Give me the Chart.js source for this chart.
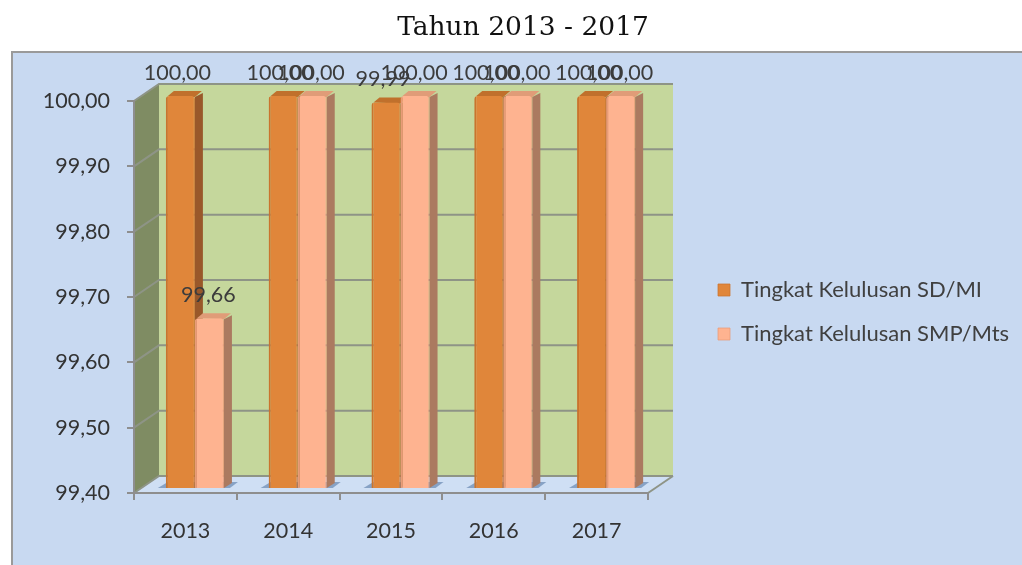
<!DOCTYPE html>
<html><head><meta charset="utf-8">
<style>html,body{margin:0;padding:0;background:#fff}canvas{display:block}</style>
<script src="https://cdn.jsdelivr.net/npm/chart.js@4"></script>
</head><body>
<div style="width:1022px;height:565px"><canvas id="c" width="1022" height="565"></canvas></div>
<script>
const categories = ['2013','2014','2015','2016','2017'];
const seriesSD = [100.00,100.00,99.99,100.00,100.00];
const seriesSMP = [99.66,100.00,100.00,100.00,100.00];
const seriesNames = ['Tingkat Kelulusan SD/MI','Tingkat Kelulusan SMP/Mts'];
const titleText = 'Tahun 2013 - 2017';
const fmt = v => v.toFixed(2).replace('.',',');
const LABEL_FONT = '"Lato"';
const WALL_DX = 25, WALL_DY = -17, BAR_DX = 9.5, BAR_DY = -5, SIDE_DX = 8, SIDE_DY = -5;
const LABEL_DX = [-3,-1];

function poly(ctx, pts, fill){ ctx.beginPath(); pts.forEach((p,i)=> i?ctx.lineTo(p[0],p[1]):ctx.moveTo(p[0],p[1])); ctx.closePath(); ctx.fillStyle=fill; ctx.fill(); }

const scene = {
  id:'scene',
  afterLayout(chart){
    const t = chart.titleBlock; t.left = 24; t.right = 1022;
    const l = chart.legend;
    const h = l.bottom - l.top;
    l.left = 696; l.right = 1022;
    l.top = 257; l.bottom = 257 + h;
  },
  beforeDraw(chart){
    const ctx = chart.ctx, a = chart.chartArea, y = chart.scales.y;
    ctx.save();
    ctx.fillStyle='#fff'; ctx.fillRect(0,0,1022,565);
    ctx.fillStyle='#c8d9f1'; ctx.fillRect(11,51,1011,514);
    ctx.strokeStyle='#9a9a9a'; ctx.lineWidth=2;
    ctx.beginPath(); ctx.moveTo(12,565); ctx.lineTo(12,52); ctx.lineTo(1022,52); ctx.stroke();
    // floor
    poly(ctx,[[a.left,a.bottom],[a.left+WALL_DX,a.bottom+WALL_DY],[a.right+WALL_DX,a.bottom+WALL_DY],[a.right,a.bottom]],'#cfdff4');
    // back wall
    poly(ctx,[[a.left+WALL_DX,a.top+WALL_DY],[a.right+WALL_DX,a.top+WALL_DY],[a.right+WALL_DX,a.bottom+WALL_DY],[a.left+WALL_DX,a.bottom+WALL_DY]],'#c5d79c');
    // side wall
    poly(ctx,[[a.left,a.top],[a.left+WALL_DX,a.top+WALL_DY],[a.left+WALL_DX,a.bottom+WALL_DY],[a.left,a.bottom]],'#7f8c63');
    // gridlines taken from the value scale
    ctx.strokeStyle='#8e9486'; ctx.lineWidth=2;
    y.ticks.forEach(t=>{
      const py = y.getPixelForValue(t.value);
      ctx.beginPath(); ctx.moveTo(a.left,py); ctx.lineTo(a.left+WALL_DX,py+WALL_DY); ctx.lineTo(a.right+WALL_DX,py+WALL_DY); ctx.stroke();
    });
    ctx.beginPath(); ctx.moveTo(a.right,a.bottom); ctx.lineTo(a.right+WALL_DX,a.bottom+WALL_DY); ctx.stroke();
    ctx.restore();
  },
  beforeDatasetsDraw(chart){
    const ctx = chart.ctx, base = chart.chartArea.bottom;
    ctx.save();
    ctx.translate(BAR_DX,BAR_DY);
    const sides=[['#99582a','#c0702c'],['#ab7a60','#e09c78']];
    chart.data.datasets.forEach((ds,di)=>{
      chart.getDatasetMeta(di).data.forEach(b=>{
        const x1=b.x+b.width/2, x0=b.x-b.width/2;
        ctx.save(); ctx.globalAlpha=.75;
        poly(ctx,[[x0-8,base],[x0+2,base-6],[x1+14,base-6],[x1+6,base]],'#6f8db5');
        ctx.restore();
      });
    });
    chart.data.datasets.forEach((ds,di)=>{
      chart.getDatasetMeta(di).data.forEach(b=>{
        const x1=b.x+b.width/2, x0=b.x-b.width/2, top=b.y;
        poly(ctx,[[x1,top+1],[x1+SIDE_DX,top+SIDE_DY+2],[x1+SIDE_DX,base+SIDE_DY],[x1,base]],sides[di][0]);
        poly(ctx,[[x0+2,top],[x0+SIDE_DX,top+SIDE_DY],[x1+SIDE_DX-1,top+SIDE_DY],[x1,top+1]],sides[di][1]);
      });
    });
  },
  afterDatasetsDraw(chart){
    const ctx = chart.ctx;
    ctx.restore();
    ctx.save();
    ctx.font='21.5px '+LABEL_FONT; ctx.fillStyle='#3c3c3c'; ctx.textAlign='center'; ctx.textBaseline='middle';
    chart.data.datasets.forEach((ds,di)=>{
      chart.getDatasetMeta(di).data.forEach((b,i)=>{
        ctx.fillText(fmt(ds.data[i]), b.x+BAR_DX+LABEL_DX[di], b.y+BAR_DY-23);
      });
    });
    ctx.restore();
  }
};

new Chart(document.getElementById('c').getContext('2d'),{
  type:'bar',
  data:{labels:categories,datasets:[
    {label:seriesNames[0],data:seriesSD,backgroundColor:'#e0863a',borderColor:'#c9742e',borderWidth:{left:2,right:1,top:0,bottom:0},borderRadius:{topLeft:3,topRight:3},borderSkipped:false,categoryPercentage:.565,barPercentage:1},
    {label:seriesNames[1],data:seriesSMP,backgroundColor:'#feb390',borderColor:'#e89c78',borderWidth:{left:2,right:1,top:0,bottom:0},borderRadius:{topLeft:3,topRight:3},borderSkipped:false,categoryPercentage:.565,barPercentage:1}
  ]},
  options:{
    responsive:false,animation:false,
    layout:{padding:{left:24,right:166,top:0,bottom:0}},
    plugins:{
      title:{display:true,text:titleText,color:'#111',font:{family:'"DejaVu Serif"',size:26.5,weight:'normal'},padding:{top:12,bottom:57.2}},
      legend:{display:true,position:'right',align:'start',labels:{font:{family:LABEL_FONT,size:22},color:'#404040',boxWidth:12,boxHeight:12,padding:22}},
      tooltip:{enabled:false}
    },
    scales:{
      x:{afterFit:s=>{s.height=72;},grid:{drawOnChartArea:false,drawTicks:true,tickLength:7,color:'#8e8e8e',lineWidth:2},border:{display:true,color:'#8e8e8e',width:2},
         ticks:{color:'#333',font:{family:LABEL_FONT,size:21.5},padding:18,maxRotation:0}},
      y:{min:99.4,max:100,afterFit:s=>{s.width=110;},grid:{drawOnChartArea:false,drawTicks:true,tickLength:7,color:'#8e8e8e',lineWidth:2},border:{display:true,color:'#8e8e8e',width:2},
         ticks:{stepSize:.1,color:'#333',font:{family:LABEL_FONT,size:21.5},padding:17,callback:v=>fmt(v)}}
    }
  },
  plugins:[scene]
});
</script>
</body></html>
